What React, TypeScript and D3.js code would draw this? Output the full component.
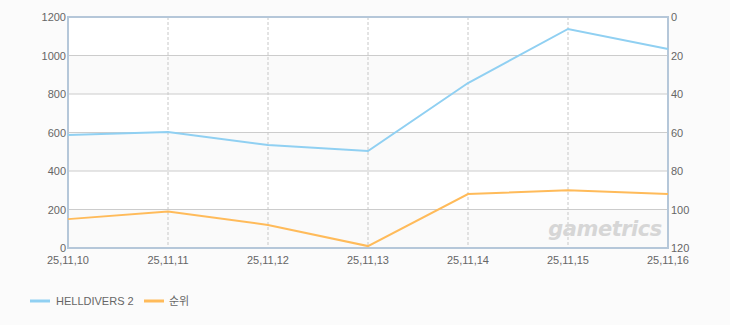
import React from "react";
import * as d3 from "d3";

const dates = ["25,11,10", "25,11,11", "25,11,12", "25,11,13", "25,11,14", "25,11,15", "25,11,16"];
const players = [587, 603, 535, 504, 857, 1138, 1034];
const ranks = [105, 101, 108, 119, 92, 90, 92];
const leftTicks = [0, 200, 400, 600, 800, 1000, 1200];
const rightTicks = [0, 20, 40, 60, 80, 100, 120];
const seriesNames = ["HELLDIVERS 2", "순위"];
const colors = ["#90d0f2", "#ffbb5a"];

export default function App() {
  const W = 730, H = 325;
  const L = 68, R = 668, T = 17, B = 248;
  const x = d3.scalePoint<string>().domain(dates).range([L, R]);
  const yL = d3.scaleLinear().domain([0, 1200]).range([B, T]);
  const yR = d3.scaleLinear().domain([0, 120]).range([T, B]);
  const lineL = d3.line<number>().x((_, i) => x(dates[i])!).y((d) => yL(d));
  const lineR = d3.line<number>().x((_, i) => x(dates[i])!).y((d) => yR(d));
  const font = "'Liberation Sans', Arial, sans-serif";
  const bands = [];
  for (let i = 0; i < leftTicks.length - 1; i += 2) {
    bands.push([leftTicks[i], leftTicks[i + 1]]);
  }
  return (
    <svg width={W} height={H} style={{ position: "absolute", left: 0, top: 0, background: "#fbfbfb" }}>
      <rect x={0} y={0} width={W} height={H} fill="#fbfbfb" />
      <rect x={L} y={T} width={R - L} height={B - T} fill="#ffffff" />
      {bands.map(([a, b], i) => (
        <rect key={i} x={L} y={yL(b)} width={R - L} height={yL(a) - yL(b)} fill="#fafafa" />
      ))}
      {leftTicks.map((t) => (
        <line key={t} x1={L} x2={R} y1={yL(t)} y2={yL(t)} stroke="#cccccc" strokeWidth={1} />
      ))}
      {dates.slice(1, -1).map((d) => (
        <line key={d} x1={x(d)} x2={x(d)} y1={T} y2={B} stroke="#c8c8c8" strokeDasharray="3,2" strokeWidth={1} />
      ))}
      <rect x={L} y={T} width={R - L} height={B - T} fill="none" stroke="#b5c7d9" strokeWidth={2} />
      <path d={lineR(ranks)!} fill="none" stroke={colors[1]} strokeWidth={2} />
      <path d={lineL(players)!} fill="none" stroke={colors[0]} strokeWidth={2} />
      <text x={605} y={236} textAnchor="middle" fontFamily="'DejaVu Sans', sans-serif" fontStyle="italic" fontWeight="bold" fontSize={21} fill="#d6d6d6" letterSpacing={-0.5}>gametrics</text>
      {leftTicks.map((t) => (
        <text key={t} x={L - 2} y={yL(t) + 4} textAnchor="end" fontFamily={font} fontSize={11} fill="#666">{t}</text>
      ))}
      {rightTicks.map((t) => (
        <text key={t} x={R + 3} y={yR(t) + 4} textAnchor="start" fontFamily={font} fontSize={11} fill="#666">{t}</text>
      ))}
      {dates.map((d) => (
        <text key={d} x={x(d)} y={264} textAnchor="middle" fontFamily={font} fontSize={11} fill="#666">{d}</text>
      ))}
      <g>
        <line x1={30} x2={50} y1={301} y2={301} stroke={colors[0]} strokeWidth={3} />
        <text x={56} y={305} fontFamily={font} fontSize={11} fill="#666">{seriesNames[0]}</text>
        <line x1={144} x2={164} y1={301} y2={301} stroke={colors[1]} strokeWidth={3} />
        <text x={169} y={305} fontFamily="'Noto Sans CJK KR', sans-serif" fontSize={11} fill="#666">{seriesNames[1]}</text>
      </g>
    </svg>
  );
}
